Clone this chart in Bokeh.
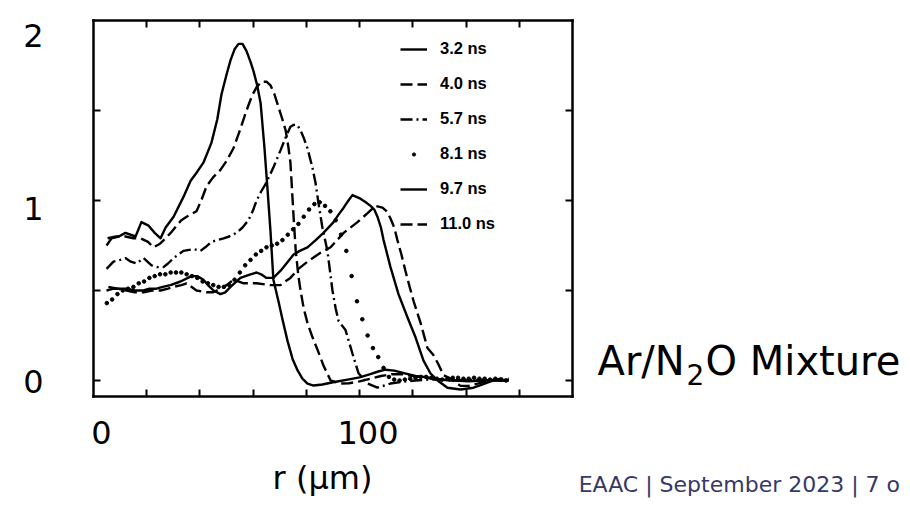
from bokeh.plotting import figure
from bokeh.models import Range1d, LinearAxis, FixedTicker, Label, Legend, LegendItem
from bokeh.embed import file_html
from bokeh.resources import INLINE

# ---------------- data (r in frame units of the original figure, normalised density) ----------------
series_labels = ["3.2 ns", "4.0 ns", "5.7 ns", "8.1 ns", "9.7 ns", "11.0 ns"]

x_32 = [4.9, 6.8, 9.5, 12.0, 15.8, 18.0, 20.7, 23.0, 25.2, 27.1, 30.1, 33.8, 36.5, 39.0, 41.3,
        44.3, 46.5, 48.1, 50.0, 51.5, 53.0, 54.5, 56.0, 57.5, 59.0, 60.1, 61.5, 62.8, 64.2, 65.4,
        66.5, 67.6, 69.5, 71.0, 72.9, 74.8, 76.7, 78.5, 80.4, 82.7, 86.0, 90.0, 95.5, 100.0, 104.0,
        107.0, 109.7, 113.0, 117.0, 121.0, 125.5, 131.0, 136.0, 141.0, 146.0, 151.0, 156.0]
y_32 = [0.75, 0.79, 0.80, 0.82, 0.80, 0.88, 0.86, 0.82, 0.79, 0.85, 0.91, 1.02, 1.11, 1.16, 1.21,
        1.32, 1.45, 1.59, 1.70, 1.78, 1.84, 1.87, 1.87, 1.83, 1.77, 1.72, 1.64, 1.54, 1.30, 1.06,
        0.83, 0.56, 0.44, 0.34, 0.22, 0.12, 0.056, 0.01, -0.017, -0.028, -0.022, -0.01, 0.005, 0.017, 0.035,
        0.05, 0.06, 0.055, 0.04, 0.025, 0.017, 0.005, 0.0, -0.005, 0.0, 0.005, 0.0]

x_40 = [5.3, 8.5, 12.0, 15.0, 17.7, 20.5, 22.5, 25.0, 27.1, 29.0, 31.2, 33.0, 35.0, 38.7, 40.5,
        42.5, 45.0, 47.7, 50.0, 52.6, 55.0, 57.5, 59.5, 61.3, 63.1, 65.0, 66.5, 68.0, 69.5, 71.0,
        72.2, 73.2, 74.0, 74.6, 75.3, 76.0, 77.0, 77.8, 79.0, 80.4, 82.3, 84.2, 86.5, 89.1, 92.8,
        96.0, 100.0, 104.0, 108.0, 112.0, 116.0, 120.0, 125.0, 130.0, 135.0, 140.0, 145.0, 150.0, 155.0]
y_40 = [0.79, 0.80, 0.80, 0.79, 0.79, 0.77, 0.74, 0.76, 0.79, 0.82, 0.86, 0.89, 0.91, 0.94, 1.00,
        1.08, 1.13, 1.17, 1.22, 1.29, 1.39, 1.50, 1.58, 1.63, 1.66, 1.66, 1.64, 1.59, 1.52, 1.45,
        1.39, 1.30, 1.21, 1.06, 0.88, 0.72, 0.58, 0.50, 0.40, 0.32, 0.24, 0.17, 0.08, 0.0, -0.017,
        -0.015, -0.005, 0.01, 0.025, 0.035, 0.035, 0.025, 0.015, 0.005, 0.0, 0.0, 0.005, 0.0, 0.0]

x_57 = [4.9, 7.5, 10.0, 12.0, 14.0, 16.2, 18.8, 21.8, 24.0, 26.3, 28.0, 30.1, 33.8, 37.6, 40.2,
        42.0, 44.3, 46.5, 48.9, 51.0, 53.7, 56.0, 58.2, 59.8, 61.3, 63.0, 64.6, 67.5, 70.3, 72.2,
        74.0, 75.2, 76.5, 77.8, 79.2, 80.4, 82.3, 83.4, 84.6, 86.0, 87.9, 89.8, 91.0, 92.1, 94.7,
        97.3, 99.6, 103.0, 106.7, 111.6, 116.5, 121.0, 126.0, 131.0, 136.0, 141.0, 146.0, 151.0, 156.0]
y_57 = [0.62, 0.66, 0.67, 0.68, 0.66, 0.65, 0.68, 0.64, 0.63, 0.63, 0.65, 0.68, 0.72, 0.73, 0.72,
        0.74, 0.77, 0.78, 0.79, 0.80, 0.82, 0.85, 0.89, 0.94, 1.00, 1.05, 1.09, 1.18, 1.28, 1.35,
        1.41, 1.42, 1.42, 1.39, 1.34, 1.29, 1.18, 1.10, 0.98, 0.85, 0.72, 0.50, 0.40, 0.33, 0.28,
        0.15, 0.04, -0.017, -0.04, -0.017, -0.006, 0.0, 0.005, 0.005, 0.0, 0.005, 0.0, 0.0, 0.0]

x_81 = [5, 7, 9, 11, 13, 15, 17, 19, 21, 23, 25, 27, 29, 31, 33, 35, 37, 39, 41, 43, 45, 47, 49,
        51, 53, 55, 57, 59, 61, 63, 65, 67, 69, 71, 73, 75, 77, 79, 81, 83, 85, 87, 89, 91, 93, 95,
        97, 99, 101, 103, 105, 107, 109, 111, 113, 115, 117, 119, 121, 123, 125, 127, 129, 131, 133,
        135, 137, 139, 141, 143, 145, 147, 149, 151, 153, 155]
y_81 = [0.43, 0.45, 0.48, 0.50, 0.51, 0.52, 0.54, 0.55, 0.57, 0.58, 0.59, 0.59, 0.60, 0.60, 0.60,
        0.59, 0.58, 0.57, 0.55, 0.54, 0.53, 0.52, 0.52, 0.53, 0.56, 0.60, 0.64, 0.67, 0.70, 0.72,
        0.74, 0.75, 0.76, 0.78, 0.81, 0.84, 0.87, 0.91, 0.95, 0.98, 0.99, 0.97, 0.94, 0.89, 0.81,
        0.72, 0.58, 0.44, 0.34, 0.25, 0.18, 0.13, 0.07, 0.02, 0.005, 0.0, 0.005, 0.01, 0.015, 0.02,
        0.02, 0.015, 0.01, 0.005, 0.01, 0.015, 0.015, 0.01, 0.01, 0.015, 0.01, 0.01, 0.005, 0.01,
        0.005, 0.0]

x_97 = [4.9, 7.5, 12.4, 15.5, 18.8, 21.0, 23.7, 26.0, 28.9, 32.7, 36.8, 39.0, 41.3, 43.0, 45.1,
        47.7, 49.5, 51.5, 55.2, 59.0, 61.3, 63.0, 65.0, 67.6, 70.3, 72.5, 75.2, 77.5, 80.4, 83.5,
        86.4, 90.2, 92.0, 94.0, 95.8, 97.3, 100.3, 102.3, 104.1, 105.5, 106.7, 108.0, 109.0, 111.6,
        114.6, 118.0, 121.0, 124.0, 126.6, 129.3, 133.0, 137.9, 142.8, 146.5, 150.3, 156.0]
y_97 = [0.50, 0.51, 0.51, 0.50, 0.50, 0.51, 0.51, 0.52, 0.53, 0.55, 0.58, 0.58, 0.56, 0.53, 0.50,
        0.48, 0.49, 0.52, 0.57, 0.59, 0.60, 0.59, 0.57, 0.57, 0.61, 0.65, 0.70, 0.72, 0.74, 0.78,
        0.82, 0.88, 0.92, 0.96, 1.00, 1.03, 1.01, 0.99, 0.97, 0.95, 0.91, 0.85, 0.78, 0.63,
        0.48, 0.35, 0.24, 0.11, 0.04, 0.0, -0.04, -0.05, -0.04, -0.02, 0.0, 0.005]

x_110 = [5.6, 9.0, 12.4, 15.5, 18.8, 22.0, 25.2, 28.0, 30.1, 33.0, 35.0, 38.7, 42.5, 45.0, 47.7,
         50.0, 52.6, 56.4, 61.3, 66.5, 70.3, 72.0, 74.0, 77.0, 80.4, 85.3, 89.1, 94.0, 99.2, 103.0,
         106.0, 108.6, 110.2, 111.6, 113.0, 114.2, 115.7, 117.2, 118.8, 120.3, 122.9, 125.5, 127.8,
         129.6, 131.5, 134.2, 137.9, 141.0, 144.3, 148.0, 153.0, 156.0]
y_110 = [0.52, 0.51, 0.50, 0.49, 0.49, 0.50, 0.50, 0.51, 0.52, 0.53, 0.54, 0.50, 0.49, 0.49, 0.51,
         0.53, 0.56, 0.54, 0.54, 0.53, 0.53, 0.55, 0.57, 0.62, 0.66, 0.71, 0.74, 0.82, 0.88, 0.93,
         0.97, 0.96, 0.94, 0.90, 0.85, 0.78, 0.70, 0.61, 0.52, 0.44, 0.32, 0.18, 0.14,
         0.09, 0.03, 0.01, -0.03, -0.03, -0.017, -0.005, 0.01, 0.01]

# box of the original figure and its inner ticks
box_x = (0, 180)
box_y = (-0.0889, 2.0)
frame_xticks = [20, 40, 60, 80, 100, 120, 140, 160]
frame_yticks = [0, 0.5, 1.0, 1.5]
# slide overlay tick labels
slide_xticks = [0, 100]
slide_yticks = [0, 1, 2]

# ---------------- figure: the frame is the whole slide area ----------------
p = figure(frame_width=902, frame_height=498,
           x_range=Range1d(-34.95, 304.0), y_range=Range1d(-0.6556, 2.1111),
           output_backend="svg", toolbar_location=None,
           x_axis_location=None, y_axis_location=None,
           min_border=0, min_border_left=0, min_border_right=0,
           min_border_top=0, min_border_bottom=0)
p.background_fill_color = "white"
p.border_fill_color = "white"
p.outline_line_color = None
p.xgrid.visible = False
p.ygrid.visible = False

p.extra_x_ranges = {"xlab": Range1d(-37.9, 300.56)}
p.extra_y_ranges = {"ylab": Range1d(-0.6782, 2.2004)}


def box_axis(ax, ticks):
    ax.ticker = FixedTicker(ticks=ticks, minor_ticks=[])
    ax.major_tick_in = 7
    ax.major_tick_out = 0
    ax.minor_tick_in = 0
    ax.minor_tick_out = 0
    ax.major_tick_line_width = 2
    ax.major_tick_line_color = "black"
    ax.axis_line_color = "black"
    ax.axis_line_width = 2.5
    ax.axis_line_cap = "square"
    ax.major_label_overrides = {t: "" for t in ticks}
    ax.major_label_text_font_size = "1px"
    ax.major_label_standoff = 0


ax_b = LinearAxis(fixed_location=box_y[0], bounds=box_x)
ax_t = LinearAxis(fixed_location=box_y[1], bounds=box_x)
ax_l = LinearAxis(fixed_location=box_x[0], bounds=box_y)
ax_r = LinearAxis(fixed_location=box_x[1], bounds=box_y)
box_axis(ax_b, frame_xticks)
box_axis(ax_t, frame_xticks)
box_axis(ax_l, frame_yticks)
box_axis(ax_r, frame_yticks)
p.add_layout(ax_b, "below")
p.add_layout(ax_t, "above")
p.add_layout(ax_l, "left")
p.add_layout(ax_r, "right")


def slide_axis(ax, standoff):
    ax.major_tick_in = 0
    ax.major_tick_out = 0
    ax.minor_tick_in = 0
    ax.minor_tick_out = 0
    ax.axis_line_color = None
    ax.major_label_text_font = "DejaVu Sans"
    ax.major_label_text_font_size = "32px"
    ax.major_label_text_color = "black"
    ax.major_label_standoff = standoff


ylab_ax = LinearAxis(y_range_name="ylab", fixed_location=box_x[0],
                     ticker=FixedTicker(ticks=slide_yticks, minor_ticks=[]))
slide_axis(ylab_ax, 50)
p.add_layout(ylab_ax, "left")

xlab_ax = LinearAxis(x_range_name="xlab", fixed_location=box_y[0],
                     ticker=FixedTicker(ticks=slide_xticks, minor_ticks=[]))
slide_axis(xlab_ax, 25)
p.add_layout(xlab_ax, "below")

# ---------------- curves ----------------
lw = 2.4
r1 = p.line(x_32, y_32, line_color="black", line_width=lw, line_join="round")
r2 = p.line(x_40, y_40, line_color="black", line_width=lw, line_dash="12 5")
r3 = p.line(x_57, y_57, line_color="black", line_width=lw, line_dash="12 4 2 4")
r4 = p.scatter(x_81, y_81, marker="circle", size=3.6, color="black")
r5 = p.line(x_97, y_97, line_color="black", line_width=lw, line_join="round")
r6 = p.line(x_110, y_110, line_color="black", line_width=lw, line_dash="12 5")

legend = Legend(items=[LegendItem(label=lab, renderers=[r]) for lab, r in
                       zip(series_labels, [r1, r2, r3, r4, r5, r6])],
                location=(400, 264), orientation="vertical",
                glyph_width=27, glyph_height=8, label_height=21, label_standoff=13,
                spacing=14, padding=0, margin=0,
                border_line_color=None, background_fill_alpha=0,
                label_text_font="Liberation Sans", label_text_font_style="bold",
                label_text_font_size="16.5px", label_text_color="black")
p.add_layout(legend)

# ---------------- slide texts ----------------
p.add_layout(Label(x=86.06, y=-0.5444, text="r (µm)", text_align="center", text_baseline="middle",
                   text_font="DejaVu Sans", text_font_size="32px", text_color="black"))
p.add_layout(Label(x=189.4, y=0.1056, text="Ar/N", text_align="left", text_baseline="alphabetic",
                   text_font="DejaVu Sans", text_font_size="40px", text_color="black"))
p.add_layout(Label(x=222.85, y=0.0333, text="2", text_align="left", text_baseline="alphabetic",
                   text_font="DejaVu Sans", text_font_size="28px", text_color="black"))
p.add_layout(Label(x=230.0, y=0.1056, text="O Mixture", text_align="left", text_baseline="alphabetic",
                   text_font="DejaVu Sans", text_font_size="40px", text_color="black"))
p.add_layout(Label(x=182.3, y=-0.5778, text="EAAC | September 2023 | 7 o", text_align="left",
                   text_baseline="alphabetic", text_font="DejaVu Sans", text_font_size="22px",
                   text_color="#353868"))

open("out.html", "w").write(file_html(p, INLINE))
